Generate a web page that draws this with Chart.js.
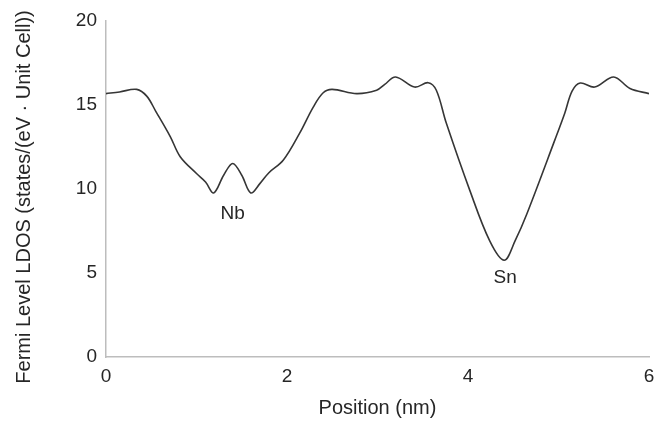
<!DOCTYPE html>
<html>
<head>
<meta charset="utf-8">
<script src="https://cdn.jsdelivr.net/npm/chart.js@4"></script>
<style>
  html, body { margin: 0; padding: 0; background: #fff; }
  #wrap { width: 654px; height: 423px; position: relative; }
</style>
</head>
<body>
<div id="wrap"><canvas id="ldosChart"></canvas></div>
<script>
// Fermi level LDOS along a line cut through the unit cell
const positionNm = [0, 0.15, 0.34, 0.45, 0.55, 0.71, 0.82, 1.0, 1.1, 1.19, 1.3, 1.4, 1.5, 1.6, 1.7, 1.8, 1.96,
    2.14, 2.29, 2.4, 2.5, 2.77, 2.99, 3.08, 3.2, 3.41, 3.56, 3.65, 3.76, 4.02, 4.24, 4.4, 4.52, 4.65,
    4.96, 5.07, 5.15, 5.24, 5.4, 5.61, 5.79, 6.0];
const ldos = [15.65, 15.75, 15.9, 15.5, 14.6, 13.1, 11.9, 10.9, 10.4, 9.75, 10.8, 11.5, 10.8, 9.75, 10.3, 10.95, 11.7,
    13.3, 14.85, 15.7, 15.9, 15.65, 15.85, 16.2, 16.64, 16.04, 16.3, 15.85, 13.9, 9.9, 6.9, 5.75, 6.9, 8.5,
    12.9, 14.5, 15.8, 16.28, 16.04, 16.64, 15.95, 15.65];

const xTicks = [0, 2, 4, 6];
const yTicks = [0, 5, 10, 15, 20];

// site labels placed under the dips
const siteLabels = ['Nb', 'Sn'];
const siteX = [1.4, 4.41];
const siteY = [8.5, 4.7];

const yTitle = 'Fermi Level LDOS (states/(eV · Unit Cell))';

const FONT = "'Liberation Sans', Arial, sans-serif";
const TEXT = '#262626';

const siteLabelPlugin = {
    id: 'siteLabels',
    afterDatasetsDraw(chart) {
        const {ctx, scales: {x, y}} = chart;
        ctx.save();
        ctx.font = '19px ' + FONT;
        ctx.fillStyle = TEXT;
        ctx.textAlign = 'center';
        ctx.textBaseline = 'middle';
        siteLabels.forEach((txt, i) => {
            ctx.fillText(txt, x.getPixelForValue(siteX[i]), y.getPixelForValue(siteY[i]));
        });
        ctx.restore();
    }
};

// y title sits a little below the axis centre, so draw it by hand
const yTitlePlugin = {
    id: 'yTitle',
    afterDraw(chart) {
        const {ctx} = chart;
        ctx.save();
        ctx.translate(24, 197);
        ctx.rotate(-Math.PI / 2);
        ctx.font = '20px ' + FONT;
        ctx.fillStyle = TEXT;
        ctx.textAlign = 'center';
        ctx.textBaseline = 'middle';
        ctx.fillText(yTitle, 0, 0);
        ctx.restore();
    }
};

const ctx = document.getElementById('ldosChart').getContext('2d');
new Chart(ctx, {
    type: 'line',
    data: {
        datasets: [{
            data: positionNm.map((p, i) => ({x: p, y: ldos[i]})),
            borderColor: '#363636',
            borderWidth: 1.6,
            pointRadius: 0,
            fill: false,
            tension: 0.35
        }]
    },
    options: {
        responsive: true,
        maintainAspectRatio: false,
        animation: false,
        layout: { padding: { top: 20, right: 5, left: 0, bottom: 0 } },
        plugins: {
            legend: { display: false },
            tooltip: { enabled: false }
        },
        scales: {
            x: {
                type: 'linear',
                min: 0,
                max: 6,
                afterBuildTicks: (axis) => { axis.ticks = xTicks.map(v => ({value: v})); },
                afterFit: (axis) => { axis.height = 66; axis.paddingRight = 0; axis.paddingLeft = 0; },
                grid: { display: false, drawTicks: false },
                border: { display: true, color: '#bdbdbd', width: 1.5 },
                ticks: { color: TEXT, font: { family: FONT, size: 19 }, padding: 8, maxRotation: 0 },
                title: {
                    display: true,
                    text: 'Position (nm)',
                    color: TEXT,
                    font: { family: FONT, size: 20 },
                    padding: { top: 0, bottom: 3 }
                }
            },
            y: {
                min: 0,
                max: 20,
                afterBuildTicks: (axis) => { axis.ticks = yTicks.map(v => ({value: v})); },
                afterFit: (axis) => { axis.width = 106; },
                grid: { display: false, drawTicks: false },
                border: { display: true, color: '#bdbdbd', width: 1.5 },
                ticks: { color: TEXT, font: { family: FONT, size: 19 }, padding: 9 },
                title: { display: false }
            }
        }
    },
    plugins: [siteLabelPlugin, yTitlePlugin]
});
</script>
</body>
</html>
